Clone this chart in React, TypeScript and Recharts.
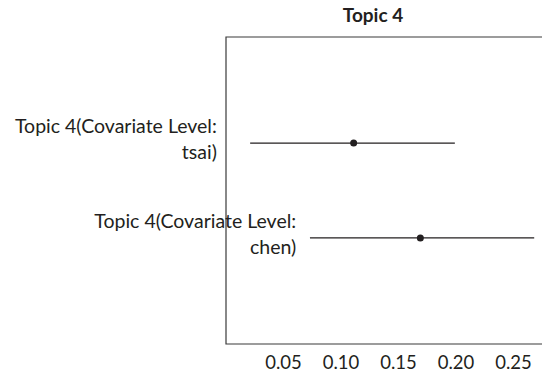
import { ScatterChart, Scatter, XAxis, YAxis, ErrorBar, ReferenceArea } from 'recharts'

// covariate levels, top to bottom
const levels = ['tsai', 'chen']
const labelLines = [
  ['Topic 4(Covariate Level:', 'tsai)'],
  ['Topic 4(Covariate Level:', 'chen)'],
]
const estimates = [0.111, 0.169]
const lower = [0.021, 0.073]
const upper = [0.199, 0.268]
const xTicks = [0.05, 0.1, 0.15, 0.2, 0.25]

const rows = levels.map((level, i) => ({
  level,
  pos: i + 1,
  est: estimates[i],
  hi: upper[i],
  ci: [estimates[i] - lower[i], upper[i] - estimates[i]],
  lines: labelLines[i],
}))

const FONT = 'Lato, "Open Sans", sans-serif'
const INK = '#231f20'

function Dot(props: any) {
  const { cx, cy } = props
  if (cx == null || cy == null) return null
  return <circle cx={cx} cy={cy} r={3.5} fill={INK} />
}

// label hangs off the upper CI end, right aligned
function RowLabel(props: any) {
  const { cx, cy, payload } = props
  if (cx == null || cy == null) return null
  const x = cx - 238
  return (
    <text textAnchor="end" fontFamily={FONT} fontSize={19.5} fill={INK}>
      <tspan x={x} y={cy - 10}>{payload.lines[0]}</tspan>
      <tspan x={x} y={cy + 16}>{payload.lines[1]}</tspan>
    </text>
  )
}

export default function App() {
  return (
    <div style={{ position: 'absolute', left: 0, top: 0, width: 542, height: 375, overflow: 'hidden', background: '#fff' }}>
      <div style={{ position: 'absolute', left: 313, top: 3, width: 120, textAlign: 'center', fontFamily: FONT, fontWeight: 700, fontSize: 19, color: INK }}>
        Topic 4
      </div>
      <ScatterChart width={552} height={375} margin={{ top: 37, right: 4, bottom: 1, left: 226 }}>
        <XAxis
          type="number"
          dataKey="est"
          domain={[0, 0.28]}
          ticks={xTicks}
          tickFormatter={(v: number) => v.toFixed(2)}
          tickLine={false}
          axisLine={false}
          tickMargin={6}
          height={30}
          tick={{ fontFamily: FONT, fontSize: 18.5, fill: INK }}
        />
        <XAxis xAxisId="hi" type="number" dataKey="hi" domain={[0, 0.28]} hide />
        <YAxis type="number" dataKey="pos" domain={[-0.12, 3.12]} reversed hide />
        <YAxis yAxisId="lab" type="number" dataKey="pos" domain={[-0.12, 3.12]} reversed hide />
        <Scatter data={rows} xAxisId="hi" yAxisId="lab" shape={<RowLabel />} isAnimationActive={false} />
        <ReferenceArea x1={0} x2={0.28} y1={-0.12} y2={3.12} fill="none" stroke="#3a3a3a" strokeWidth={1.2} ifOverflow="visible" />
        <Scatter data={rows} shape={<Dot />} isAnimationActive={false}>
          <ErrorBar dataKey="ci" direction="x" width={0} stroke={INK} strokeWidth={1.2} />
        </Scatter>
      </ScatterChart>
    </div>
  )
}
